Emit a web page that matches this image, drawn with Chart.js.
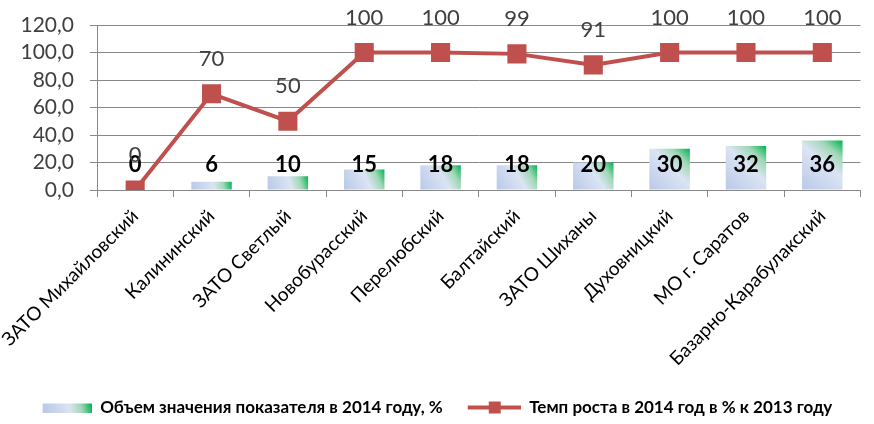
<!DOCTYPE html>
<html>
<head>
<meta charset="utf-8">
<script src="https://cdn.jsdelivr.net/npm/chart.js@4"></script>
<style>
html,body{margin:0;padding:0;background:#fff;}
#wrap{width:874px;height:424px;position:relative;}
</style>
</head>
<body>
<div id="wrap"><canvas id="c" width="874" height="424"></canvas></div>
<script>
const categories = ["ЗАТО Михайловский","Калининский","ЗАТО Светлый","Новобурасский","Перелюбский","Балтайский","ЗАТО Шиханы","Духовницкий","МО г. Саратов","Базарно-Карабулакский"];
const volume2014 = [0, 6, 10, 15, 18, 18, 20, 30, 32, 36];
const growth2014 = [0, 70, 50, 100, 100, 99, 91, 100, 100, 100];
const volumeLabels = ["0","6","10","15","18","18","20","30","32","36"];
const growthLabels = ["0","70","50","100","100","99","91","100","100","100"];
const seriesNames = ["Объем значения показателя в 2014 году, %", "Темп роста в 2014 год в % к 2013 году"];

const FONT = "Lato";
const RED = "#C0504D";

function barGradient(ctx, x0, y0, x1, y1) {
  const g = ctx.createLinearGradient(x0, y0, x1, y1);
  g.addColorStop(0, "#b8c8e8");
  g.addColorStop(0.55, "#dbe4f3");
  g.addColorStop(0.78, "#9fd8b6");
  g.addColorStop(1, "#00b050");
  return g;
}

// legend images (box width 56)
const legBar = document.createElement("canvas");
legBar.width = 56; legBar.height = 10;
(function(){ const c = legBar.getContext("2d"); c.fillStyle = barGradient(c, 7, 10, 56, 0); c.fillRect(7,1,49,9); })();
const legLine = document.createElement("canvas");
legLine.width = 56; legLine.height = 14;
(function(){ const c = legLine.getContext("2d"); c.strokeStyle = RED; c.lineWidth = 4; c.beginPath(); c.moveTo(3,7); c.lineTo(56,7); c.stroke(); c.fillStyle = RED; c.fillRect(24,1,12,12); })();

const labelPlugin = {
  id: "valueLabels",
  afterDatasetsDraw(chart) {
    const ctx = chart.ctx;
    const yScale = chart.scales.y;
    const base = yScale.getPixelForValue(0);
    ctx.save();
    ctx.textAlign = "center";
    ctx.textBaseline = "middle";
    const m0 = chart.getDatasetMeta(0);
    ctx.font = "bold 22px " + FONT;
    ctx.fillStyle = "#000";
    m0.data.forEach((el, i) => { ctx.fillText(volumeLabels[i], el.x, base - 25); });
    const m1 = chart.getDatasetMeta(1);
    ctx.font = "22px " + FONT;
    ctx.fillStyle = "#404040";
    m1.data.forEach((el, i) => { ctx.fillText(growthLabels[i], el.x, el.y - 35); });
    ctx.restore();
  }
};

new Chart(document.getElementById("c"), {
  type: "bar",
  data: {
    labels: categories,
    datasets: [
      {
        type: "bar",
        label: seriesNames[0],
        data: volume2014,
        order: 1,
        barPercentage: 0.53,
        categoryPercentage: 1.0,
        borderWidth: 0,
        backgroundColor: (c) => {
          const chart = c.chart;
          if (!chart.chartArea || c.dataIndex === undefined) return "#c6d4ee";
          const xs = chart.scales.x, ys = chart.scales.y;
          const x = xs.getPixelForValue(c.dataIndex);
          const hw = 20.5;
          const yTop = ys.getPixelForValue(volume2014[c.dataIndex]);
          const yBase = ys.getPixelForValue(0);
          return barGradient(chart.ctx, x - hw, yBase, x + hw, yTop);
        }
      },
      {
        type: "line",
        label: seriesNames[1],
        data: growth2014,
        order: 0,
        borderColor: RED,
        borderWidth: 4,
        backgroundColor: RED,
        pointStyle: "rect",
        pointRadius: 13.5,
        pointBorderWidth: 0,
        pointBackgroundColor: RED,
        tension: 0,
        fill: false
      }
    ]
  },
  options: {
    responsive: false,
    animation: false,
    layout: { padding: { top: 25, right: 6, left: 0, bottom: -2 } },
    plugins: {
      tooltip: { enabled: false },
      legend: {
        position: "bottom",
        labels: {
          usePointStyle: true,
          pointStyleWidth: 56,
          padding: 22,
          color: "#000",
          font: { family: FONT, size: 17, weight: "bold" },
          generateLabels: (chart) => [
            { text: seriesNames[0], datasetIndex: 0, pointStyle: legBar, fillStyle: "#c6d4ee", strokeStyle: "transparent", lineWidth: 0, hidden: false },
            { text: seriesNames[1], datasetIndex: 1, pointStyle: legLine, fillStyle: RED, strokeStyle: RED, lineWidth: 0, hidden: false }
          ]
        }
      }
    },
    scales: {
      x: {
        offset: true,
        grid: { offset: true, drawOnChartArea: false, drawTicks: true, tickLength: 7, color: "#888" },
        border: { display: true, color: "#888", width: 1 },
        ticks: { minRotation: 45, maxRotation: 45, autoSkip: false, padding: 8, color: "#000", font: { family: FONT, size: 19 } },
        afterFit: (s) => { s.height = 187; s.paddingLeft = 0; s.paddingRight = 0; }
      },
      y: {
        min: 0, max: 120,
        ticks: { stepSize: 20, autoSkip: false, padding: 16, color: "#404040", font: { family: FONT, size: 21 },
          callback: (v) => v.toFixed(1).replace(".", ",") },
        grid: { color: "#888", tickLength: 7, lineWidth: 1 },
        border: { display: true, color: "#888" },
        afterFit: (s) => { s.width = 97; s.paddingTop = 0; s.paddingBottom = 0; }
      }
    }
  },
  plugins: [labelPlugin]
});
</script>
</body>
</html>
